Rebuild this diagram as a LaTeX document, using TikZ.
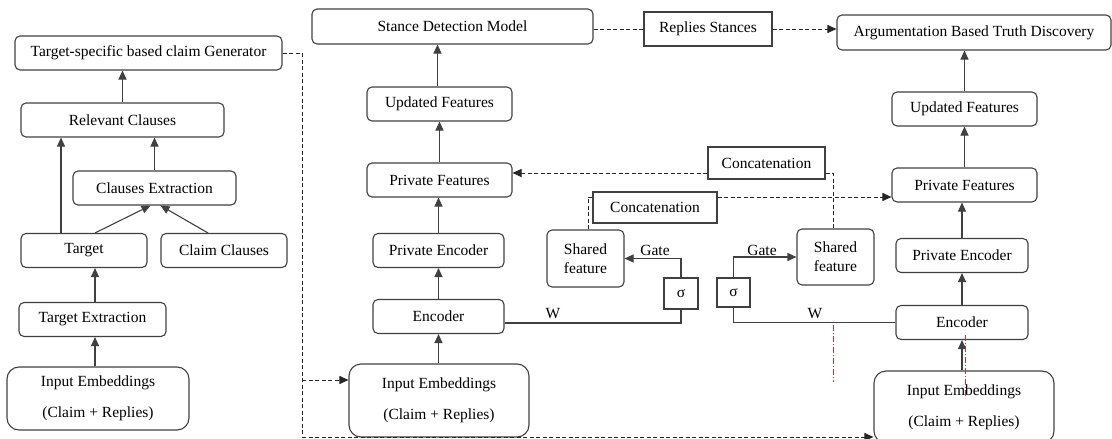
\documentclass[tikz,border=0pt]{standalone}
\usepackage{fontspec}
\setmainfont{Liberation Serif}
\usepackage{xcolor}
\usepackage{tikz}
\usetikzlibrary{arrows.meta,calc,positioning}
\definecolor{lc}{HTML}{404040}
\definecolor{rc}{HTML}{D03030}
\tikzset{
  box/.style={rectangle, rounded corners=5pt, draw=lc, line width=1.1pt,
              minimum height=34pt, inner sep=0pt, font=\fontsize{15.5pt}{19pt}\selectfont},
  sbox/.style={rectangle, draw=lc, line width=1.1pt,
              minimum height=32pt, inner sep=0pt, font=\fontsize{15.5pt}{19pt}\selectfont},
  embbox/.style={box, rounded corners=12pt, align=center},
  lab/.style={inner sep=0pt, font=\fontsize{15.5pt}{19pt}\selectfont},
  ln/.style={draw=lc, line width=1.1pt},
  arr/.style={ln, -{Triangle[length=9pt,width=8pt]}},
  dln/.style={draw=black!85, line width=0.9pt, dash pattern=on 4pt off 2.5pt},
  darr/.style={dln, -{Triangle[length=9pt,width=8pt]}},
  redl/.style={draw=rc, line width=0.9pt, dash pattern=on 6pt off 2pt on 1pt off 2pt}
}
\begin{document}
\begin{tikzpicture}[x=1pt,y=-1pt]
  \useasboundingbox (0,0) rectangle (1112,439);
  % left branch
  \node[box, minimum width=267pt] (gen) at (148.5,53) {Target-specific based claim Generator};
  \node[box, minimum width=203pt] (rel) at (122.5,120) {Relevant Clauses};
  \node[box, minimum width=163pt] (cex) at (154.5,188) {Clauses Extraction};
  \node[box, minimum width=126pt] (tgt) at (84,250.5) {Target};
  \node[box, minimum width=126pt] (ccl) at (224,250.5) {Claim Clauses};
  \node[box, minimum width=147pt] (tex) at (92.5,319.5) {Target Extraction};
  \node[embbox, minimum width=182pt, minimum height=63pt] (inl) at (98,398.5) {Input Embeddings\\[12pt](Claim + Replies)};
  \draw[arr] (rel.north) -- (rel.north |- gen.south);
  \draw[arr] ([xshift=-23pt]tgt.north) -- ([xshift=-23pt]tgt.north |- rel.south);
  \draw[arr] (cex.north) -- (cex.north |- rel.south);
  \draw[arr] ([xshift=11pt]tgt.north) -- ([xshift=-4pt]cex.south);
  \draw[arr] ([xshift=-16pt]ccl.north) -- ([xshift=6pt]cex.south);
  \draw[arr] ([xshift=2.5pt]tex.north) -- ([xshift=2.5pt]tex.north |- tgt.south);
  \draw[arr] ([xshift=-3pt]inl.north) -- ([xshift=-3pt]inl.north |- tex.south);
  % stance model
  \node[box, minimum width=281pt, minimum height=35pt] (sdm) at (452.5,26.5) {Stance Detection Model};
  \node[sbox, minimum width=128pt, minimum height=34pt] (rst) at (708,29) {Replies Stances};
  \node[box, minimum width=274pt, minimum height=35pt] (abt) at (974,32.5) {Argumentation Based Truth Discovery};
  \node[box, minimum width=145pt] (upd1) at (439.5,104) {Updated Features};
  \node[box, minimum width=145pt] (prf1) at (439.5,180) {Private Features};
  \node[box, minimum width=131pt] (pen1) at (438.5,250.5) {Private Encoder};
  \node[box, minimum width=131pt] (enc1) at (438.5,316.5) {Encoder};
  \node[embbox, minimum width=180pt, minimum height=73pt] (inm) at (439,400.5) {Input Embeddings\\[12pt](Claim + Replies)};
  \node[box, minimum width=77pt, minimum height=57pt, align=center] (shf1) at (585.5,258.5) {Shared\\feature};
  \node[sbox, minimum width=34pt, minimum height=31pt] (sig1) at (681,293.5) {σ};
  % truth discovery side
  \node[box, minimum width=145pt] (upd2) at (964.5,109) {Updated Features};
  \node[box, minimum width=145pt] (prf2) at (964.5,185) {Private Features};
  \node[box, minimum width=132pt] (pen2) at (962,255.5) {Private Encoder};
  \node[box, minimum width=132pt] (enc2) at (962,322.5) {Encoder};
  \node[embbox, minimum width=180pt, minimum height=72pt] (inr) at (964,407) {Input Embeddings\\[12pt](Claim + Replies)};
  \node[box, minimum width=77pt, minimum height=56pt, align=center] (shf2) at (835.5,257) {Shared\\feature};
  \node[sbox, minimum width=33pt, minimum height=29pt] (sig2) at (733.5,292.5) {σ};
  % concatenation
  \node[sbox, minimum width=117pt] (cat1) at (766.5,163) {Concatenation};
  \node[sbox, minimum width=124pt, minimum height=31pt] (cat2) at (655,207.5) {Concatenation};
  \node[lab] (w1) at (553,314) {W};
  \node[lab] (w2) at (815,314) {W};
  \node[lab] (g1) at (655,250) {Gate};
  \node[lab] (g2) at (762,250) {Gate};
  \coordinate (dbot) at (302,437);
  \coordinate (dmid) at (302,380);
  \draw[dln] (gen.east) -| (dbot);
  \draw[darr] (dbot) -- (dbot -| inr.west);
  \draw[darr] (dmid) -- (dmid -| inm.west);
  \draw[dln] (rst.west -| sdm.east) -- (rst.west);
  \draw[darr] (rst.east) -- (rst.east -| abt.west);
  \draw[arr] (enc1.south |- inm.north) -- (enc1.south);
  \draw[arr] (enc1) -- (pen1);
  \draw[arr] (pen1.north) -- (pen1.north |- prf1.south);
  \draw[arr] (prf1) -- (upd1);
  \draw[arr] ([xshift=-2pt]upd1.north) -- ([xshift=-2pt]upd1.north |- sdm.south);
  \draw[ln] ([yshift=-6.5pt]enc1.east) -| (sig1.south);
  \draw[arr] (sig1.north) |- (shf1.east);
  \draw[arr] (enc2.south |- inr.north) -- (enc2.south);
  \draw[arr] (enc2) -- (pen2);
  \draw[arr] (pen2.north) -- (pen2.north |- prf2.south);
  \draw[arr] (prf2) -- (upd2);
  \draw[arr] (upd2.north) -- (upd2.north |- abt.south);
  \draw[ln] (enc2.west) -| (sig2.south);
  \draw[arr] (sig2.north) |- (shf2.west);
  \draw[darr] ([yshift=-10pt]cat1.west) -- ([yshift=-10pt]cat1.west -| prf1.east);
  \draw[dln] ([yshift=-10pt]cat1.east) -| ([xshift=-2.5pt]shf2.north);
  \draw[dln] ([yshift=10.5pt]cat2.west) -| ([xshift=2.5pt]shf1.north);
  \draw[darr] ([yshift=10.5pt]cat2.east) -- ([yshift=10.5pt]cat2.east -| prf2.west);
  \coordinate (r1a) at (833,325);
  \coordinate (r1b) at (833,382);
  \coordinate (r2a) at (965,335);
  \coordinate (r2b) at (965,398);
  \draw[redl] (r1a) -- (r1b);
  \draw[redl] (r2a) -- (r2b);
\end{tikzpicture}
\end{document}
